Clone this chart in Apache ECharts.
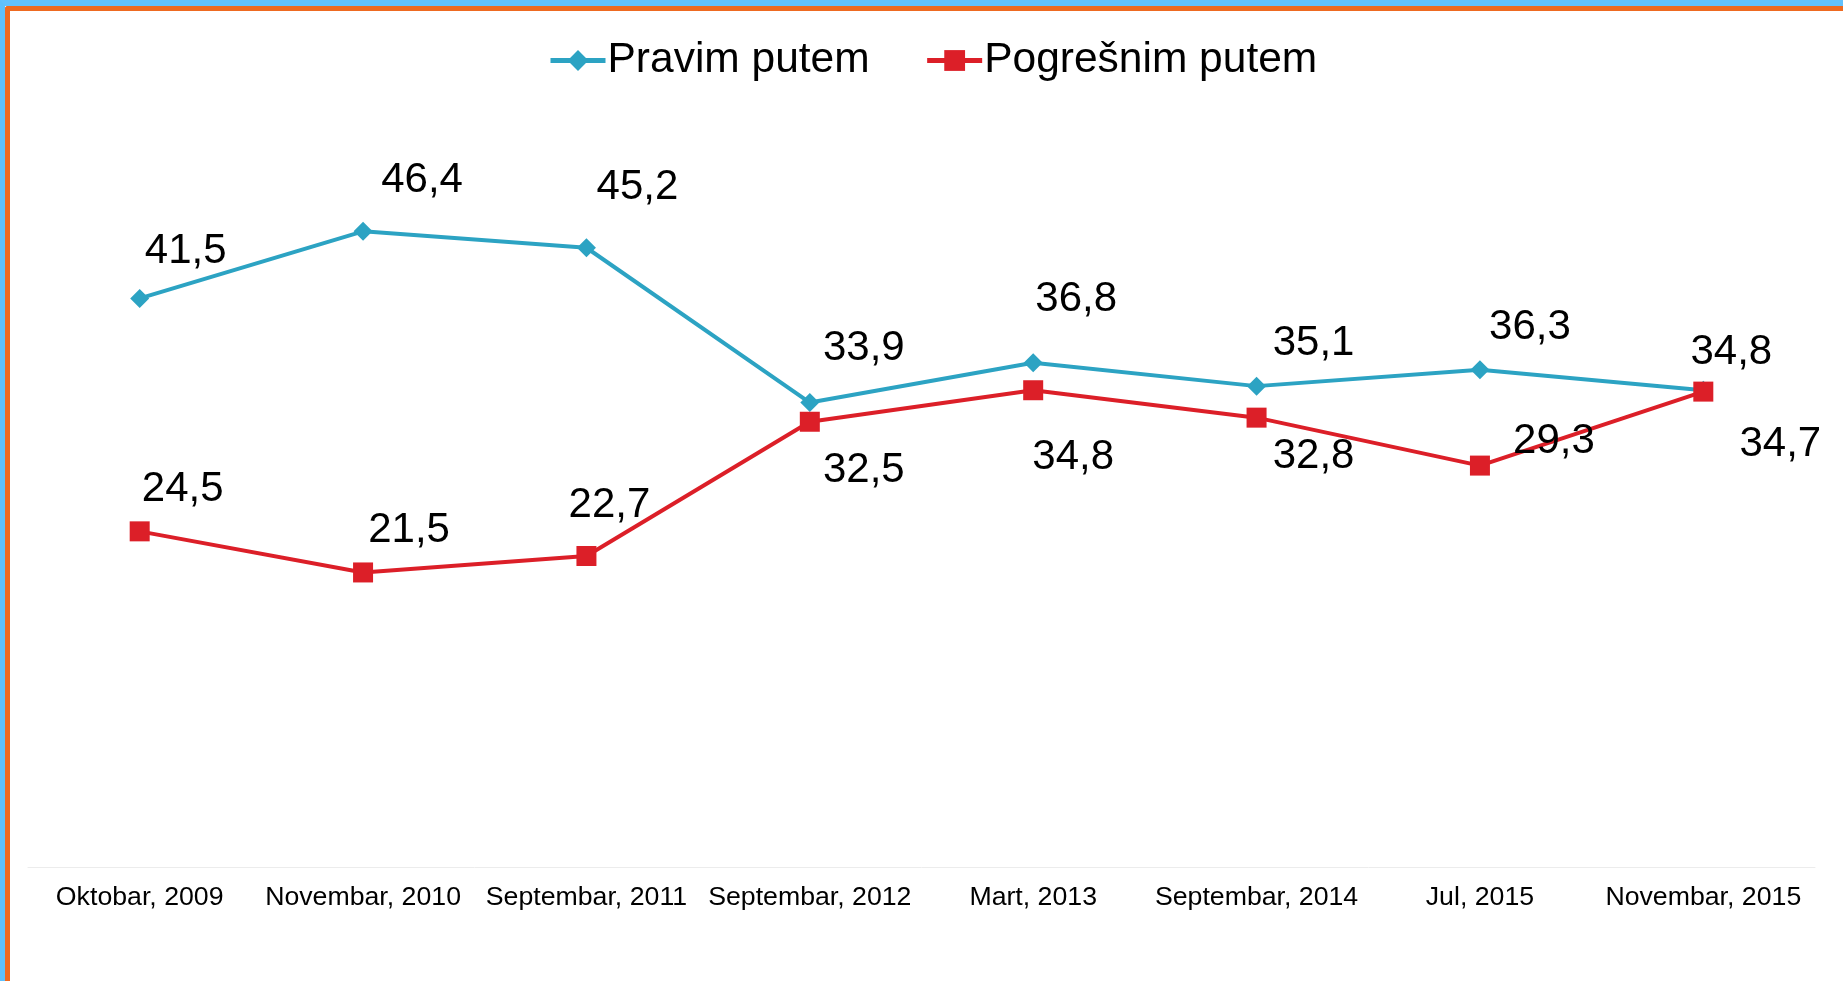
<!DOCTYPE html>
<html>
<head>
<meta charset="utf-8">
<script src="https://cdn.jsdelivr.net/npm/echarts@6/dist/echarts.min.js"></script>
<style>
  html, body { margin: 0; padding: 0; background: #fff; overflow: hidden; }
  #chart-panel { position: absolute; left: 0; top: 0; width: 1843px; height: 981px; }
  /* okvir kao na slici: plava traka + narandžasta ivica */
  .frame-blue { position: absolute; left: 0; top: 0; width: 1843px; height: 981px;
    border-top: 6px solid #62c1fd; border-left: 5px solid #5ec0fc; box-sizing: border-box; pointer-events: none; }
  .frame-orange { position: absolute; left: 5px; top: 6px; width: 1850px; height: 990px;
    border-top: 5px solid #ee6a21; border-left: 5px solid #ee6a21; border-top-left-radius: 3px;
    box-sizing: border-box; pointer-events: none; }
</style>
</head>
<body>
<div id="chart-panel"></div>
<div class="frame-blue"></div>
<div class="frame-orange"></div>
<script>
// podaci
const categories = ["Oktobar, 2009", "Novembar, 2010", "Septembar, 2011", "Septembar, 2012",
  "Mart, 2013", "Septembar, 2014", "Jul, 2015", "Novembar, 2015"];
const pravimPutem = [41.5, 46.4, 45.2, 33.9, 36.8, 35.1, 36.3, 34.8];
const pogresnimPutem = [24.5, 21.5, 22.7, 32.5, 34.8, 32.8, 29.3, 34.7];

// pomeraji etiketa (px) u odnosu na tačku
const pravimOffsets = [[46, -47], [59, -51], [51, -60], [54, -54], [43, -63], [57, -43], [50, -42], [28, -38]];
const pogresnimOffsets = [[43, -42], [46, -42], [23, -51], [54, 49], [40, 67], [57, 39], [74, -24], [77, 53]];

const FONT = "'Liberation Sans', Arial, sans-serif";

function fmt(v) {
  return v.toFixed(1).replace(".", ",");
}

function withLabels(values, offsets) {
  return values.map((v, i) => ({
    value: v,
    label: { offset: offsets[i] },
  }));
}

let chartPanel = echarts.init(document.getElementById("chart-panel"));
let option = {
  backgroundColor: "#fff",
  animation: false,
  legend: {
    top: 34,
    left: 543,
    itemWidth: 55,
    itemHeight: 26,
    itemGap: 55,
    lineStyle: { width: 5 },
    textStyle: { fontSize: 42.5, color: "#000", fontFamily: FONT, padding: [0, 0, 0, -3] },
    data: ["Pravim putem", "Pogrešnim putem"],
  },
  grid: { left: 28, right: 28, top: 182, bottom: 114 },
  xAxis: {
    type: "category",
    data: categories,
    boundaryGap: true,
    axisLine: { lineStyle: { color: "#ececec", width: 1 } },
    axisTick: { show: false },
    axisLabel: { color: "#000", fontSize: 26.7, fontFamily: FONT, margin: 17, interval: 0 },
  },
  yAxis: {
    type: "value",
    min: 0,
    max: 50,
    show: false,
    splitLine: { show: false },
  },
  series: [
    {
      name: "Pravim putem",
      type: "line",
      data: withLabels(pravimPutem, pravimOffsets),
      symbol: "diamond",
      symbolSize: 19,
      color: "#2ca3c3",
      lineStyle: { width: 4, color: "#2ca3c3" },
      label: {
        show: true,
        position: "inside",
        color: "#000",
        fontSize: 42,
        fontFamily: FONT,
        formatter: p => fmt(p.value),
      },
      z: 3,
    },
    {
      name: "Pogrešnim putem",
      type: "line",
      data: withLabels(pogresnimPutem, pogresnimOffsets),
      symbol: "rect",
      symbolSize: 20,
      color: "#dc1f28",
      lineStyle: { width: 4, color: "#dc1f28" },
      label: {
        show: true,
        position: "inside",
        color: "#000",
        fontSize: 42,
        fontFamily: FONT,
        formatter: p => fmt(p.value),
      },
      z: 4,
    },
  ],
};
chartPanel.setOption(option);
</script>
</body>
</html>
